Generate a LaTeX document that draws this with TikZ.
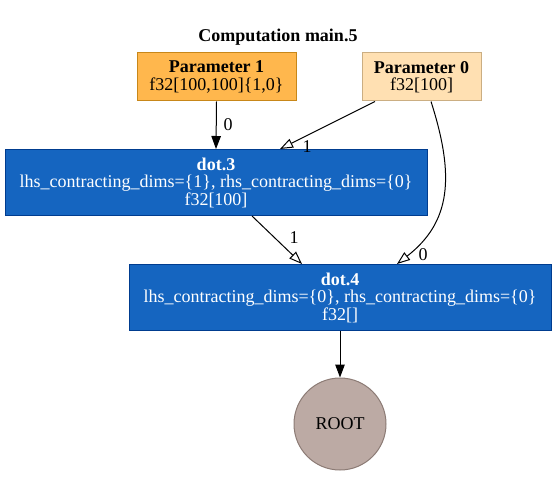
\documentclass[tikz,border=0pt]{standalone}
\usepackage{fontspec}
\setmainfont{Liberation Serif}
\usetikzlibrary{arrows.meta}
\definecolor{pone}{HTML}{FFB74D}
\definecolor{poneb}{HTML}{C88719}
\definecolor{pzero}{HTML}{FFE0B2}
\definecolor{pzerob}{HTML}{CBAE82}
\definecolor{dotf}{HTML}{1565C0}
\definecolor{dotb}{HTML}{003C8F}
\definecolor{rootf}{HTML}{BCAAA4}
\definecolor{rootb}{HTML}{8C7B75}
\tikzset{
  txt/.style={font=\fontsize{18}{17.5}\selectfont},
  box/.style={txt, draw, rectangle, align=center, inner sep=0pt, line width=1pt},
  dotbox/.style={box, fill=dotf, draw=dotb, text=white, minimum width=422pt, minimum height=66pt},
  lbl/.style={txt, inner sep=0pt},
  solidarr/.style={-{Triangle[length=13pt,width=9.5pt]}, line width=1pt},
  openarr/.style={-{Triangle[open,length=13pt,width=9.5pt]}, line width=1pt},
}
\begin{document}
\begin{tikzpicture}[x=1pt,y=-1pt]
\useasboundingbox (0,0) rectangle (556,476);
\node[txt] (title) at (278,37) {\textbf{Computation main.5}};
\node[box, fill=pone, draw=poneb, minimum width=159pt, minimum height=48pt] (p1) at (216.5,77) {\textbf{Parameter 1}\\f32[100,100]\{1,0\}};
\node[box, fill=pzero, draw=pzerob, minimum width=119pt, minimum height=48pt] (p0) at (421.5,77) {\textbf{Parameter 0}\\f32[100]};
\node[dotbox] (d3) at (216,182.5) {\textbf{dot.3}\\lhs\_contracting\_dims=\{1\}, rhs\_contracting\_dims=\{0\}\\f32[100]};
\node[dotbox] (d4) at (340,297.5) {\textbf{dot.4}\\lhs\_contracting\_dims=\{0\}, rhs\_contracting\_dims=\{0\}\\f32[]};
\node[txt, circle, fill=rootf, draw=rootb, line width=1pt, minimum size=92pt, inner sep=0pt] (root) at (340,424) {ROOT};
\draw[solidarr] (p1.south) -- (d3.north);
\node[lbl] (l1) at (228,125) {0};
\draw[openarr] ([xshift=-46.5pt]p0.south) -- ([xshift=64pt]d3.north);
\node[lbl] (l2) at (307,147) {1};
\draw[openarr] ([xshift=36pt]d3.south) -- ([xshift=-38pt]d4.north);
\node[lbl] (l3) at (294,238) {1};
\draw[openarr] ([xshift=9.5pt]p0.south) .. controls +(24,75) and +(54,-42) .. ([xshift=57pt]d4.north);
\node[lbl] (l4) at (423,255) {0};
\draw[solidarr] (d4.south) -- (root.north);
\end{tikzpicture}
\end{document}
